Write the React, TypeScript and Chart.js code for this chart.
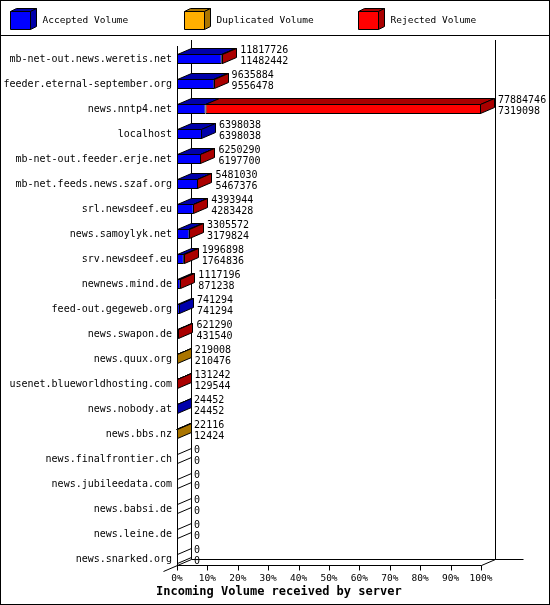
import { useEffect, useRef } from 'react';
import { Chart, Plugin, registerables } from 'chart.js';

Chart.register(...registerables);

const hosts = [
  'mb-net-out.news.weretis.net',
  'feeder.eternal-september.org',
  'news.nntp4.net',
  'localhost',
  'mb-net-out.feeder.erje.net',
  'mb-net.feeds.news.szaf.org',
  'srl.newsdeef.eu',
  'news.samoylyk.net',
  'srv.newsdeef.eu',
  'newnews.mind.de',
  'feed-out.gegeweb.org',
  'news.swapon.de',
  'news.quux.org',
  'usenet.blueworldhosting.com',
  'news.nobody.at',
  'news.bbs.nz',
  'news.finalfrontier.ch',
  'news.jubileedata.com',
  'news.babsi.de',
  'news.leine.de',
  'news.snarked.org',
];

// upper label of each row
const totalVolume = [
  11817726, 9635884, 77884746, 6398038, 6250290, 5481030, 4393944, 3305572,
  1996898, 1117196, 741294, 621290, 219008, 131242, 24452, 22116, 0, 0, 0, 0, 0,
];

// lower label of each row
const acceptedVolume = [
  11482442, 9556478, 7319098, 6398038, 6197700, 5467376, 4283428, 3179824,
  1764836, 871238, 741294, 431540, 210476, 129544, 24452, 12424, 0, 0, 0, 0, 0,
];

const duplicatedVolume = [
  0, 0, 0, 0, 0, 0, 0, 0, 0, 0, 0, 0, 8532, 0, 0, 9692, 0, 0, 0, 0, 0,
];

const rejectedVolume = [
  335284, 79406, 70565648, 0, 52590, 13654, 110516, 125748, 232062, 245958, 0,
  189750, 0, 1698, 0, 0, 0, 0, 0, 0, 0,
];

const seriesNames = ['Accepted Volume', 'Duplicated Volume', 'Rejected Volume'];
const axisTitle = 'Incoming Volume received by server';

const FRONT = ['#0000ff', '#ffaf00', '#ff0000'];
const SHADE = ['#0000aa', '#aa7500', '#aa0000'];
const MONO = '"DejaVu Sans Mono", monospace';
const DX = 14;
const DY = -6;

function poly(ctx: CanvasRenderingContext2D, pts: number[][], fill: string) {
  ctx.beginPath();
  ctx.moveTo(pts[0][0], pts[0][1]);
  for (let i = 1; i < pts.length; i++) ctx.lineTo(pts[i][0], pts[i][1]);
  ctx.closePath();
  ctx.fillStyle = fill;
  ctx.fill();
  ctx.stroke();
}

function line(ctx: CanvasRenderingContext2D, x1: number, y1: number, x2: number, y2: number) {
  ctx.beginPath();
  ctx.moveTo(x1, y1);
  ctx.lineTo(x2, y2);
  ctx.stroke();
}

const boxes3d: Plugin<'bar'> = {
  id: 'boxes3d',
  beforeDatasetsDraw(chart) {
    const { ctx, chartArea: a, scales } = chart;
    const xs = scales.x;
    const floor = Math.round(scales.y.getPixelForValue(hosts.length - 1) + 7) - 0.5;
    const left = Math.round(xs.getPixelForValue(0)) + 0.5;
    const right = Math.round(xs.getPixelForValue(100)) + 0.5;
    const top = Math.floor(a.top);
    ctx.save();
    ctx.strokeStyle = '#000';
    ctx.lineWidth = 1;
    line(ctx, left, top, left, floor);
    line(ctx, left + DX, top + DY, left + DX, floor + DY);
    line(ctx, right + DX, top + DY, right + DX, floor + DY);
    ctx.beginPath();
    ctx.moveTo(left, floor);
    ctx.lineTo(right, floor);
    ctx.lineTo(right + DX, floor + DY);
    ctx.stroke();
    line(ctx, left + DX, floor + DY, right + 3 * DX, floor + DY);
    line(ctx, left - DX, floor - DY, left + DX, floor + DY);
    xs.ticks.forEach((t) => {
      const x = Math.round(xs.getPixelForValue(t.value)) + 0.5;
      line(ctx, x, floor, x, floor + 5);
    });
    ctx.restore();
  },
  afterDatasetsDraw(chart) {
    const { ctx, scales } = chart;
    const xs = scales.x;
    const maxTotal = Math.max(...totalVolume);
    ctx.save();
    ctx.strokeStyle = '#000';
    ctx.lineWidth = 1;
    hosts.forEach((_, j) => {
      const segs = chart.data.datasets
        .map((ds, i) => ({ i, v: ds.data[j] as number, el: chart.getDatasetMeta(i).data[j] as any }))
        .filter((s) => s.v > 0);
      const ref = chart.getDatasetMeta(0).data[j] as any;
      const cy = ref.y;
      const t = Math.round(cy - ref.height / 2) + 0.5;
      const b = Math.round(cy + ref.height / 2) - 0.5;
      const x0 = Math.round(xs.getPixelForValue(0)) + 0.5;
      if (segs.length === 0) {
        line(ctx, x0, t, x0 + DX, t + DY);
        line(ctx, x0, b, x0 + DX, b + DY);
      } else {
        segs.forEach((s, k) => {
          const xa = k === 0 ? x0 : Math.round(s.el.base) - 0.5;
          const xb = Math.max(Math.round(s.el.x) - 0.5, xa);
          poly(ctx, [[xa, t], [xb, t], [xb + DX, t + DY], [xa + DX, t + DY]], SHADE[s.i]);
        });
        const last = segs[segs.length - 1];
        const xe = Math.max(Math.round(last.el.x) - 0.5, x0);
        poly(ctx, [[xe, t], [xe + DX, t + DY], [xe + DX, b + DY], [xe, b]], SHADE[last.i]);
      }
      const xEnd = xs.getPixelForValue((totalVolume[j] / maxTotal) * 100);
      ctx.fillStyle = '#000';
      ctx.font = `10px ${MONO}`;
      ctx.textAlign = 'left';
      ctx.textBaseline = 'middle';
      ctx.fillText(String(totalVolume[j]), xEnd + DX + 3, cy - 9);
      ctx.fillText(String(acceptedVolume[j]), xEnd + DX + 3, cy + 2);
    });
    ctx.restore();
  },
  afterDraw(chart) {
    const { ctx } = chart;
    ctx.save();
    ctx.strokeStyle = '#000';
    ctx.lineWidth = 1;
    ctx.strokeRect(0.5, 0.5, 549, 604);
    line(ctx, 0, 35.5, 550, 35.5);
    chart.data.datasets.forEach((ds, i) => {
      const x = 10.5 + 174 * i;
      const y = 11.5;
      poly(ctx, [[x, y], [x + 20, y], [x + 26, y - 3], [x + 6, y - 3]], SHADE[i]);
      poly(ctx, [[x + 20, y], [x + 26, y - 3], [x + 26, y + 15], [x + 20, y + 18]], SHADE[i]);
      poly(ctx, [[x, y], [x + 20, y], [x + 20, y + 18], [x, y + 18]], FRONT[i]);
      ctx.fillStyle = '#000';
      ctx.font = `9.5px ${MONO}`;
      ctx.textAlign = 'left';
      ctx.textBaseline = 'middle';
      ctx.fillText(ds.label as string, x + 32, 20.5);
    });
    ctx.font = `bold 12px ${MONO}`;
    ctx.textBaseline = 'middle';
    ctx.fillText(axisTitle, 156, 592);
    ctx.restore();
  },
};

export default function App() {
  const canvasRef = useRef<HTMLCanvasElement>(null);

  useEffect(() => {
    const canvas = canvasRef.current;
    if (!canvas) return;

    const maxTotal = Math.max(...totalVolume);
    const pct = (v: number) => (v / maxTotal) * 100;
    const series = [acceptedVolume, duplicatedVolume, rejectedVolume];

    const chart = new Chart(canvas, {
      type: 'bar',
      data: {
        labels: hosts,
        datasets: series.map((values, i) => ({
          label: seriesNames[i],
          data: values.map(pct),
          backgroundColor: FRONT[i],
          borderColor: '#000',
          borderWidth: 1,
          borderSkipped: false,
          inflateAmount: 0,
          barThickness: 10,
        })),
      },
      options: {
        indexAxis: 'y',
        responsive: false,
        animation: false,
        layout: { padding: { top: 46.5, right: 69, bottom: 21.5, left: 0 } },
        plugins: {
          legend: { display: false },
          tooltip: { enabled: false },
        },
        scales: {
          x: {
            stacked: true,
            min: 0,
            max: 100,
            grid: { display: false, drawTicks: false },
            border: { display: false },
            ticks: {
              stepSize: 10,
              padding: 1,
              color: '#000',
              maxRotation: 0,
              autoSkip: false,
              font: { family: MONO, size: 9.5 },
              callback: (v) => `${v}%`,
            },
            afterFit: (s) => {
              s.height = 12;
            },
          },
          y: {
            stacked: true,
            grid: { display: false, drawTicks: false },
            border: { display: false },
            ticks: {
              padding: 5,
              color: '#000',
              autoSkip: false,
              font: { family: MONO, size: 10 },
            },
            afterFit: (s) => {
              s.width = 177;
            },
          },
        },
      },
      plugins: [boxes3d],
    });

    return () => chart.destroy();
  }, []);

  return (
    <div style={{ position: 'absolute', left: 0, top: 0, width: 550, height: 605, background: '#fff' }}>
      <canvas ref={canvasRef} width={550} height={605} />
    </div>
  );
}
